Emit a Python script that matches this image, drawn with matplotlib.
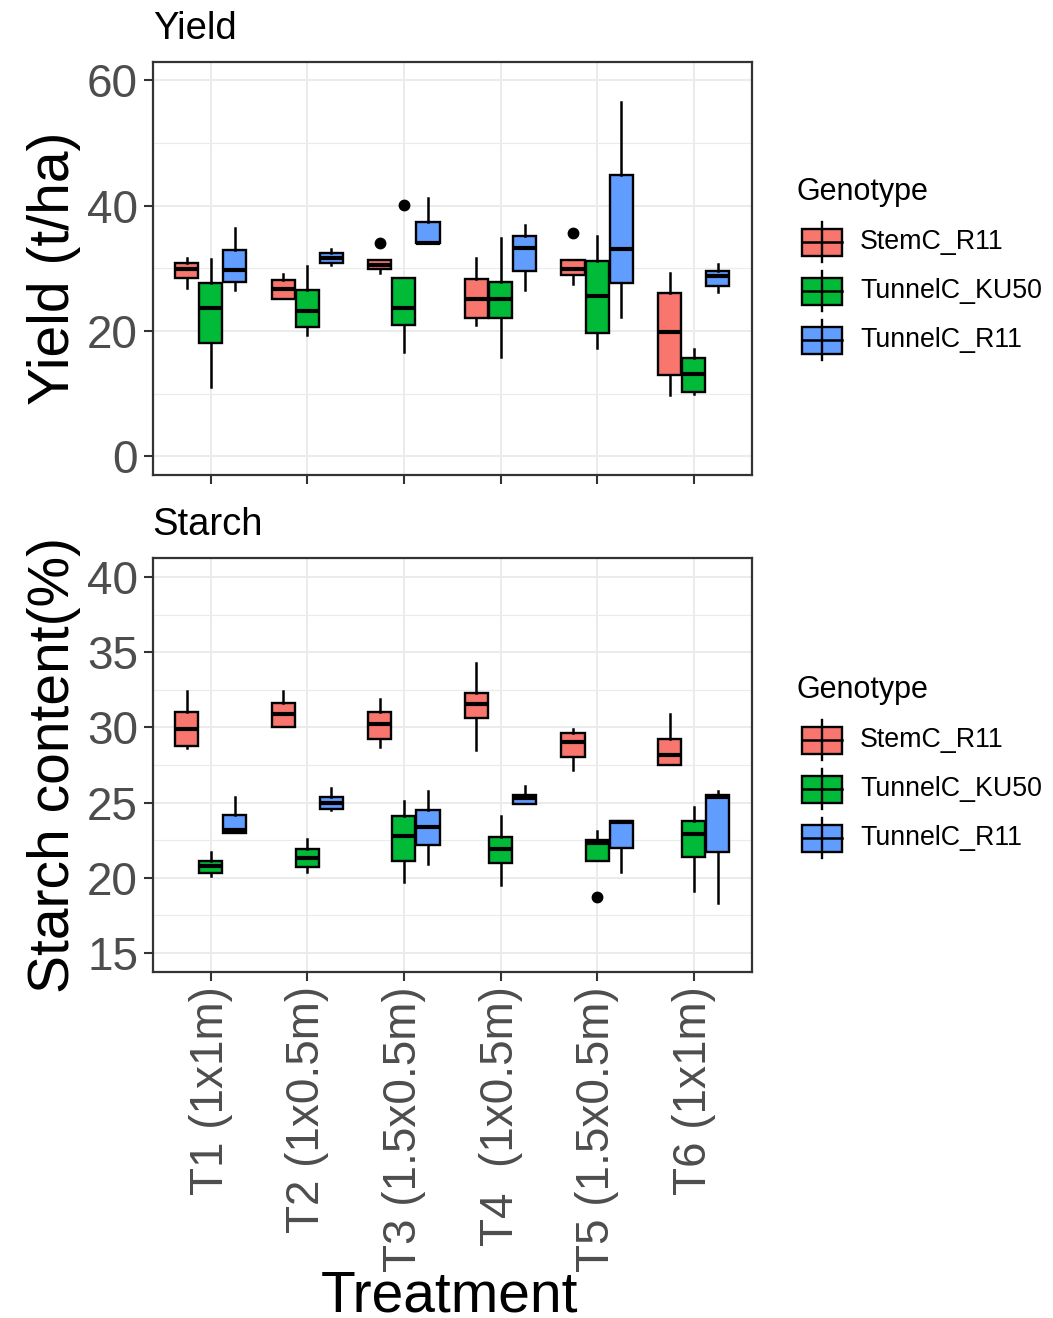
import matplotlib
matplotlib.use("Agg")
import matplotlib.pyplot as plt
from matplotlib.patches import Rectangle
from matplotlib.lines import Line2D
from matplotlib.ticker import MultipleLocator

plt.rcParams["font.family"] = ["Liberation Sans", "DejaVu Sans"]

treatments = ["T1 (1x1m)", "T2 (1x0.5m)", "T3 (1.5x0.5m)",
              "T4  (1x0.5m)", "T5 (1.5x0.5m)", "T6 (1x1m)"]
genotypes = ["StemC_R11", "TunnelC_KU50", "TunnelC_R11"]
colors = ["#F8766D", "#00BA38", "#619CFF"]

# one row per treatment: lower whisker, Q1, median, Q3, upper whisker
yield_stemc_r11 = [[26.8, 28.5, 29.9, 30.9, 31.7],
                   [25.1, 25.1, 26.7, 28.2, 29.1],
                   [29.2, 29.9, 30.5, 31.4, 31.4],
                   [21.0, 22.1, 25.1, 28.3, 31.7],
                   [27.5, 28.9, 29.9, 31.3, 31.3],
                   [9.7, 13.0, 19.9, 26.1, 29.3]]
yield_tunnelc_ku50 = [[11.1, 18.0, 23.7, 27.6, 31.5],
                      [19.3, 20.7, 23.2, 26.5, 30.4],
                      [16.6, 21.0, 23.7, 28.5, 28.5],
                      [15.9, 22.1, 25.1, 27.9, 34.8],
                      [17.3, 19.7, 25.6, 31.2, 35.1],
                      [10.0, 10.2, 13.1, 15.7, 17.1]]
yield_tunnelc_r11 = [[26.5, 27.9, 29.8, 33.0, 36.5],
                     [30.5, 30.9, 31.6, 32.4, 33.1],
                     [34.0, 34.0, 34.1, 37.4, 41.3],
                     [26.5, 29.6, 33.2, 35.1, 36.9],
                     [22.3, 27.7, 33.1, 44.9, 56.6],
                     [26.2, 27.2, 28.7, 29.6, 30.7]]
yield_outliers = [[[], [], [34.0], [], [35.7], []],
                  [[], [], [40.1], [], [], []],
                  [[], [], [], [], [], []]]

starch_stemc_r11 = [[28.6, 28.75, 29.9, 31.0, 32.4],
                    [30.0, 30.0, 30.9, 31.6, 32.4],
                    [28.7, 29.2, 30.2, 31.0, 31.9],
                    [28.5, 30.6, 31.55, 32.3, 34.3],
                    [27.2, 28.0, 29.0, 29.6, 29.9],
                    [27.5, 27.5, 28.15, 29.2, 30.9]]
starch_tunnelc_ku50 = [[20.1, 20.3, 20.8, 21.1, 21.7],
                       [20.4, 20.7, 21.3, 21.9, 22.6],
                       [19.75, 21.1, 22.8, 24.1, 25.1],
                       [19.5, 21.0, 21.9, 22.7, 24.1],
                       [21.1, 21.1, 22.3, 22.5, 23.1],
                       [19.1, 21.4, 22.9, 23.8, 24.7]]
starch_tunnelc_r11 = [[23.0, 23.0, 23.2, 24.2, 25.4],
                      [24.5, 24.6, 25.0, 25.4, 26.0],
                      [20.9, 22.15, 23.4, 24.5, 25.8],
                      [24.9, 24.9, 25.3, 25.5, 26.1],
                      [20.4, 22.0, 23.7, 23.8, 23.8],
                      [18.3, 21.7, 25.4, 25.5, 25.8]]
starch_outliers = [[[], [], [], [], [], []],
                   [[], [], [], [], [18.7], []],
                   [[], [], [], [], [], []]]

W, H = 1053, 1318
fig = plt.figure(figsize=(W / 100, H / 100), dpi=100)


def px_rect(left, top, right, bottom):
    return [left / W, 1 - bottom / H, (right - left) / W, (bottom - top) / H]


def draw_panel(ax, series, outliers, ylim, major, minor, title, ylabel):
    offsets = [-0.25, 0.0, 0.25]
    for g, (rows, flier_rows, col) in enumerate(zip(series, outliers, colors)):
        stats = []
        for r, fl in zip(rows, flier_rows):
            lo, q1, med, q3, hi = r
            stats.append(dict(whislo=lo, q1=q1, med=med, q3=q3, whishi=hi, fliers=fl))
        ax.bxp(stats, positions=[i + offsets[g] for i in range(len(rows))],
               widths=0.24, patch_artist=True, showcaps=False,
               boxprops=dict(facecolor=col, edgecolor="black", linewidth=1.7),
               medianprops=dict(color="black", linewidth=3),
               whiskerprops=dict(color="black", linewidth=1.8),
               flierprops=dict(marker="o", markerfacecolor="black",
                               markeredgecolor="black", markersize=7.5))
    ax.set_xlim(-0.6, len(treatments) - 0.4)
    ax.set_ylim(*ylim)
    ax.yaxis.set_major_locator(MultipleLocator(major))
    ax.yaxis.set_minor_locator(MultipleLocator(minor))
    ax.set_xticks(range(len(treatments)))
    ax.set_axisbelow(True)
    ax.grid(which="major", color="#EBEBEB", linewidth=1.4)
    ax.grid(which="minor", axis="y", color="#EBEBEB", linewidth=0.8)
    for s in ax.spines.values():
        s.set_color("#333333")
        s.set_linewidth(1.6)
    ax.tick_params(which="major", length=6.5, width=1.5, color="#333333",
                   labelsize=33, labelcolor="#4D4D4D", pad=4)
    ax.tick_params(which="minor", length=0)
    ax.set_title(title, loc="left", fontsize=27.5, pad=16.5)
    ax.set_ylabel(ylabel, fontsize=41)
    ax.yaxis.set_label_coords(-0.12, 0.5)


ax_top = fig.add_axes(px_rect(152.7, 61.7, 751.7, 475))
draw_panel(ax_top, [yield_stemc_r11, yield_tunnelc_ku50, yield_tunnelc_r11],
           yield_outliers, (-3, 63), 20, 10, "Yield", "Yield (t/ha)")
ax_top.tick_params(axis="x", labelbottom=False)

ax_bot = fig.add_axes(px_rect(152.7, 558.3, 751.7, 971.7))
draw_panel(ax_bot, [starch_stemc_r11, starch_tunnelc_ku50, starch_tunnelc_r11],
           starch_outliers, (13.75, 41.25), 5, 2.5, "Starch", "Starch content(%)")
ax_bot.set_xticklabels(treatments, rotation=90, ha="center", va="top")
ax_bot.tick_params(axis="x", pad=4)

fig.text(450 / W, 1 - 1311 / H, "Treatment", ha="center", va="baseline", fontsize=41)

# legends drawn on a pixel-space overlay
leg = fig.add_axes([0, 0, 1, 1])
leg.set_xlim(0, W)
leg.set_ylim(H, 0)
leg.axis("off")


def draw_legend(title_baseline):
    leg.text(797, title_baseline, "Genotype", fontsize=22, va="baseline", ha="left")
    for k, (name, col) in enumerate(zip(genotypes, colors)):
        cy = title_baseline + 42 + 49 * k
        leg.add_line(Line2D([822, 822], [cy - 20, cy + 20], color="black", lw=1.7))
        leg.add_patch(Rectangle((802, cy - 13.5), 40, 27, facecolor=col,
                                edgecolor="black", linewidth=1.7))
        leg.add_line(Line2D([802, 842], [cy, cy], color="black", lw=1.8))
        leg.text(860, cy, name, fontsize=19.3, va="center", ha="left")


draw_legend(200)
draw_legend(698)

fig.savefig("out.png", dpi=100)
